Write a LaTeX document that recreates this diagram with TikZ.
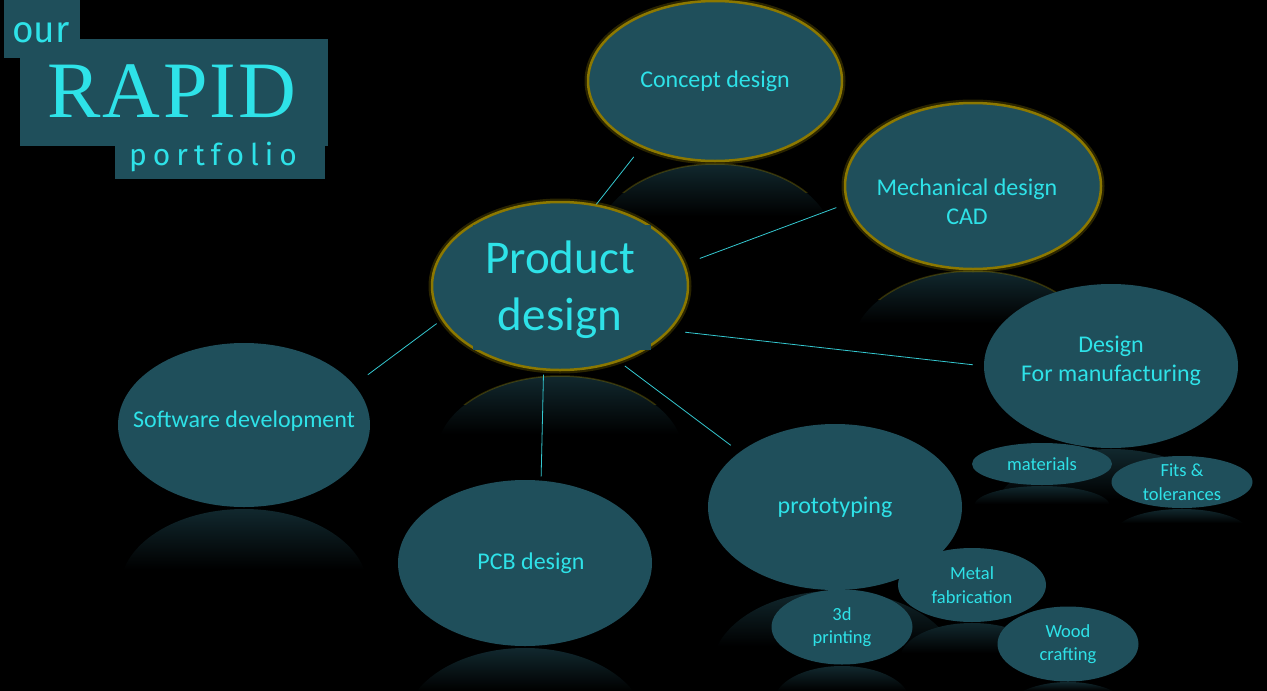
\documentclass[tikz,border=0pt]{standalone}
\usepackage{fontspec}
\usepackage{xcolor}
\usepackage{tikz}
\usetikzlibrary{shapes.geometric}
\newfontfamily\blobfont{Carlito}
\newfontfamily\ourfont{Fira Sans}
\newfontfamily\portfont[LetterSpace=20]{Fira Sans}
\newfontfamily\rapidfont[LetterSpace=3]{Liberation Serif}
\definecolor{blobc}{RGB}{31,79,91}
\definecolor{textc}{RGB}{46,226,232}
\definecolor{linec}{RGB}{52,200,208}
\definecolor{glowc}{RGB}{140,120,0}
\definecolor{reflc}{RGB}{17,40,46}

\begin{document}
\begin{tikzpicture}[x=1pt, y=-1pt,
    blob/.style={ellipse, fill=blobc, inner sep=0pt},
    glow/.style={preaction={draw=glowc, line width=7pt, opacity=0.3}, draw=glowc, line width=2.5pt},
    blobtext/.style={text=textc, align=center, inner sep=0pt, font=\blobfont\fontsize{24}{29}\selectfont},
    smalltext/.style={blobtext, font=\blobfont\fontsize{18.5}{23.5}\selectfont},
    link/.style={draw=linec, line width=0.8pt}]

    % ===== Background =====
    \fill[black] (0,0) rectangle (1267,691);
    \useasboundingbox (0,0) rectangle (1267,691);

    % ===== Reflections below the blobs =====
    \foreach \cx/\ty/\rx/\ry/\h in {715/164/118/78/52, 973/271/122/80/52, 560/376/124/80/58,
        244/509/124/80/60, 525/648/122/80/43, 835/591/124/80/55, 1111/449/124/80/50,
        1042/486/68/20/18, 1182/509/68/25/14, 972/623/72/36/30, 842/666/68/36/25, 1068/682/68/36/9} {
        \begin{scope}
            \clip (\cx,\ty+\ry) ellipse ({\rx} and {\ry});
            \shade[top color=reflc, bottom color=black] (\cx-\rx,\ty) rectangle (\cx+\rx,\ty+\h);
        \end{scope}
    }
    % Yellow rim on the reflections of the glowing blobs
    \foreach \cx/\ty/\rx/\ry in {715/164/118/78, 973/271/122/80, 560/376/124/80} {
        \begin{scope}
            \clip (\cx-\rx-5,\ty-3) rectangle (\cx+\rx+5,\ty+28);
            \draw[glowc, opacity=0.35, line width=1.5pt] (\cx,\ty+\ry) ellipse ({\rx} and {\ry});
        \end{scope}
    }

    % ===== Title =====
    \fill[blobc] (4,0) rectangle (80,58);
    \fill[blobc] (20,39) rectangle (328,146);
    \fill[blobc] (115,140) rectangle (325,179);
    \node[text=textc, inner sep=0pt, font=\ourfont\fontsize{37}{40}\selectfont] (our) at (41,33) {our};
    \node[text=textc, inner sep=0pt, font=\rapidfont\fontsize{80}{84}\selectfont] (rapid) at (172,91) {RAPID};
    \node[text=textc, inner sep=0pt, font=\portfont\fontsize{30}{34}\selectfont] (portfolio) at (213,157) {portfolio};

    % ===== Main blobs =====
    \node[blob, glow, minimum width=254pt, minimum height=160pt,
        label={[blobtext]center:Concept design}] (concept) at (715,81) {};
    \node[blob, glow, minimum width=256pt, minimum height=166pt,
        label={[blobtext, xshift=-6pt, yshift=-16pt]center:{Mechanical design\\CAD}}] (mech) at (973,186) {};
    \node[blob, glow, minimum width=256pt, minimum height=168pt] (product) at (560,286) {};
    \fill[blobc] (473,225) rectangle (651,350);
    \node[blobtext, font=\blobfont\fontsize{47}{57}\selectfont] (producttext) at (560,290) {Product\\design};
    \node[blob, minimum width=254pt, minimum height=164pt,
        label={[blobtext, yshift=5pt]center:{Design\\For manufacturing}}] (dfm) at (1111,366) {};
    \node[blob, minimum width=252pt, minimum height=164pt,
        label={[blobtext, yshift=4pt]center:Software development}] (software) at (244,425) {};
    \node[blob, minimum width=254pt, minimum height=166pt,
        label={[blobtext, xshift=6pt]center:PCB design}] (pcb) at (525,563) {};
    \node[blob, minimum width=254pt, minimum height=166pt,
        label={[blobtext]center:prototyping}] (proto) at (835,507) {};

    % ===== Small blobs =====
    \node[blob, minimum width=140pt, minimum height=42pt,
        label={[smalltext]center:materials}] (materials) at (1042,464) {};
    \node[blob, minimum width=141pt, minimum height=52pt,
        label={[smalltext]center:{Fits \&\\tolerances}}] (fits) at (1182,482) {};
    \node[blob, minimum width=141pt, minimum height=75pt,
        label={[smalltext]center:{3d\\printing}}] (printing) at (842,627) {};
    \node[blob, minimum width=148pt, minimum height=74pt,
        label={[smalltext]center:{Metal\\fabrication}}] (metal) at (972,585) {};
    \node[blob, minimum width=141pt, minimum height=75pt,
        label={[smalltext]center:{Wood\\crafting}}] (wood) at (1068,644) {};

    % ===== Connectors =====
    \draw[link, shorten <=12pt] (concept.222) -- (product.66);
    \draw[link, shorten <=11pt, shorten >=16pt] (mech.188) -- (product.10);
    \draw[link, shorten <=15pt, shorten >=11pt] (product.-22) -- (dfm.180);
    \draw[link, shorten <=6pt, shorten >=17pt] (product.196) -- (software.20);
    \draw[link, shorten <=4pt, shorten >=4pt] (product.259) -- (pcb.79);
    \draw[link, shorten <=7pt, shorten >=11pt] (product.-52) -- (proto.150);
\end{tikzpicture}
\end{document}
